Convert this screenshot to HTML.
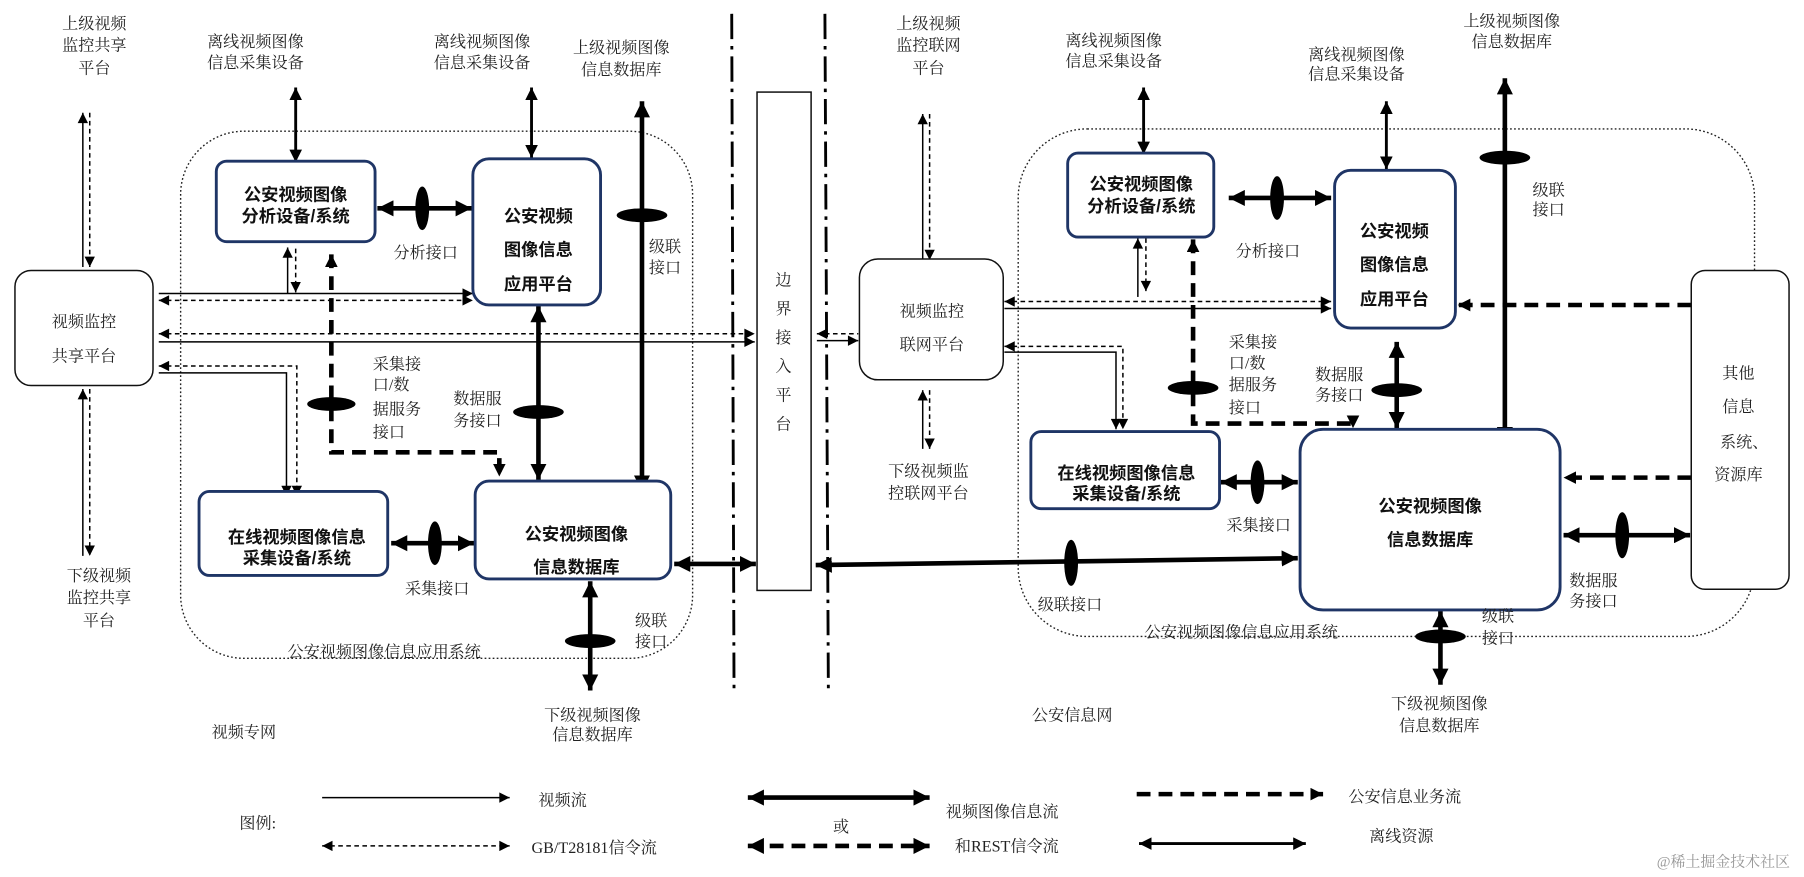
<!DOCTYPE html>
<html><head><meta charset="utf-8"><style>
html,body{margin:0;padding:0;background:#fff;}
svg{display:block;}
text{font-family:"Liberation Serif","Noto Serif CJK SC",serif;font-size:14px;fill:#222;}
.b{font-weight:bold;font-size:15px;fill:#111;font-family:"Liberation Sans","Noto Sans CJK SC",sans-serif;}
.box{fill:#fff;stroke:#1f3566;stroke-width:2.5;}
.plain{fill:#fff;stroke:#111;stroke-width:1.3;}
.t{stroke:#000;stroke-width:1.3;fill:none;}
.d{stroke:#000;stroke-width:1.3;fill:none;stroke-dasharray:4 3;}
.T{stroke:#000;stroke-width:4;fill:none;}
.TD{stroke:#000;stroke-width:4;fill:none;stroke-dasharray:12 7;}
.m{stroke:#000;stroke-width:2.5;fill:none;}
</style></head><body>
<svg width="1804" height="877" viewBox="0 0 1568 762" preserveAspectRatio="none" xmlns="http://www.w3.org/2000/svg">
<defs>
<marker id="a" markerUnits="userSpaceOnUse" viewBox="0 0 10 10" refX="10" refY="5" markerWidth="10" markerHeight="9" orient="auto-start-reverse"><path d="M0,0L10,5L0,10z" fill="#000"/></marker>
<marker id="A" markerUnits="userSpaceOnUse" viewBox="0 0 10 10" refX="10" refY="5" markerWidth="14" markerHeight="14" orient="auto-start-reverse"><path d="M0,0L10,5L0,10z" fill="#000"/></marker>
<marker id="M" markerUnits="userSpaceOnUse" viewBox="0 0 10 10" refX="10" refY="5" markerWidth="11" markerHeight="11" orient="auto-start-reverse"><path d="M0,0L10,5L0,10z" fill="#000"/></marker>
</defs>

<rect x="157" y="114" width="445" height="458" rx="55" fill="none" stroke="#222" stroke-width="1.2" stroke-dasharray="1.5 2"/>
<rect x="885" y="112" width="640" height="441" rx="60" fill="none" stroke="#222" stroke-width="1.2" stroke-dasharray="1.5 2"/>

<line x1="636" y1="12" x2="638" y2="600" stroke="#000" stroke-width="2.5" stroke-dasharray="22 6 3 6"/>
<line x1="717" y1="12" x2="720" y2="600" stroke="#000" stroke-width="2.5" stroke-dasharray="22 6 3 6"/>

<!-- LEFT connectors -->
<line class="t" x1="72" y1="232" x2="72" y2="98" marker-end="url(#a)"/>
<line class="d" x1="78" y1="98" x2="78" y2="232" marker-end="url(#a)"/>
<line class="t" x1="72" y1="483" x2="72" y2="338" marker-end="url(#a)"/>
<line class="d" x1="78" y1="338" x2="78" y2="483" marker-end="url(#a)"/>
<line class="m" x1="257" y1="76" x2="257" y2="141" marker-start="url(#M)" marker-end="url(#M)"/>
<line class="m" x1="462" y1="76" x2="462" y2="137" marker-start="url(#M)" marker-end="url(#M)"/>
<line class="T" x1="558" y1="88" x2="558" y2="427" marker-start="url(#A)" marker-end="url(#A)"/>
<ellipse cx="558" cy="187" rx="22" ry="6"/>
<line class="T" x1="328" y1="181" x2="410" y2="181" marker-start="url(#A)" marker-end="url(#A)"/>
<ellipse cx="367" cy="181" rx="6" ry="19"/>
<line class="t" x1="250" y1="255" x2="250" y2="215" marker-end="url(#a)"/>
<line class="d" x1="257" y1="216" x2="257" y2="254" marker-end="url(#a)"/>
<line class="t" x1="138" y1="255" x2="411" y2="255" marker-end="url(#a)"/>
<line class="d" x1="138" y1="261" x2="411" y2="261" marker-start="url(#a)" marker-end="url(#a)"/>
<line class="d" x1="138" y1="290" x2="656" y2="290" marker-start="url(#a)" marker-end="url(#a)"/>
<line class="t" x1="138" y1="297" x2="656" y2="297" marker-end="url(#a)"/>
<polyline class="d" points="138,318 258,318 258,431" marker-start="url(#a)" marker-end="url(#a)"/>
<polyline class="t" points="138,324 249,324 249,431" marker-end="url(#a)"/>
<polyline class="TD" points="288,221 288,393 434,393 434,414" marker-start="url(#M)" marker-end="url(#M)"/>
<ellipse cx="288" cy="351" rx="21" ry="6"/>
<line class="T" x1="468" y1="266" x2="468" y2="417" marker-start="url(#A)" marker-end="url(#A)"/>
<ellipse cx="468" cy="358" rx="22" ry="6"/>
<line class="T" x1="340" y1="472" x2="412" y2="472" marker-start="url(#A)" marker-end="url(#A)"/>
<ellipse cx="378" cy="472" rx="6" ry="19"/>
<line class="T" x1="513" y1="505" x2="513" y2="600" marker-start="url(#A)" marker-end="url(#A)"/>
<ellipse cx="513" cy="557" rx="22" ry="6"/>
<line class="T" x1="586" y1="490" x2="657" y2="490" marker-start="url(#A)" marker-end="url(#A)"/>

<!-- RIGHT connectors -->
<line class="d" x1="710" y1="290" x2="746" y2="290" marker-start="url(#a)"/>
<line class="t" x1="710" y1="296" x2="746" y2="296" marker-end="url(#a)"/>
<line class="t" x1="802" y1="226" x2="802" y2="99" marker-end="url(#a)"/>
<line class="d" x1="808" y1="99" x2="808" y2="226" marker-end="url(#a)"/>
<line class="t" x1="802" y1="390" x2="802" y2="339" marker-end="url(#a)"/>
<line class="d" x1="808" y1="339" x2="808" y2="390" marker-end="url(#a)"/>
<line class="m" x1="994" y1="76" x2="994" y2="134" marker-start="url(#M)" marker-end="url(#M)"/>
<line class="m" x1="1205" y1="88" x2="1205" y2="147" marker-start="url(#M)" marker-end="url(#M)"/>
<line class="T" x1="1308" y1="68" x2="1308" y2="385" marker-start="url(#A)" marker-end="url(#A)"/>
<ellipse cx="1308" cy="137" rx="22" ry="6"/>
<line class="T" x1="1068" y1="172" x2="1157" y2="172" marker-start="url(#A)" marker-end="url(#A)"/>
<ellipse cx="1110" cy="172" rx="6" ry="19"/>
<line class="t" x1="989" y1="258" x2="989" y2="207" marker-end="url(#a)"/>
<line class="d" x1="996" y1="207" x2="996" y2="253" marker-end="url(#a)"/>
<line class="d" x1="873" y1="262" x2="1157" y2="262" marker-start="url(#a)" marker-end="url(#a)"/>
<line class="t" x1="873" y1="268" x2="1157" y2="268" marker-end="url(#a)"/>
<polyline class="d" points="873,301 976,301 976,373" marker-start="url(#a)" marker-end="url(#a)"/>
<polyline class="t" points="873,306 970,306 970,373" marker-end="url(#a)"/>
<polyline class="TD" points="1037,208 1037,368 1176,368 1176,372" marker-start="url(#M)" marker-end="url(#M)"/>
<ellipse cx="1037" cy="337" rx="22" ry="6"/>
<line class="T" x1="1214" y1="297" x2="1214" y2="372" marker-start="url(#A)" marker-end="url(#A)"/>
<ellipse cx="1214" cy="339" rx="22" ry="6"/>
<line class="T" x1="1061" y1="419" x2="1128" y2="419" marker-start="url(#A)" marker-end="url(#A)"/>
<ellipse cx="1093" cy="419" rx="6" ry="19"/>
<line class="T" x1="709" y1="491" x2="1128" y2="485" marker-start="url(#A)" marker-end="url(#A)"/>
<ellipse cx="931" cy="489" rx="6" ry="20"/>
<line class="TD" x1="1470" y1="265" x2="1267" y2="265" marker-end="url(#M)"/>
<line class="TD" x1="1470" y1="415" x2="1359" y2="415" marker-end="url(#M)"/>
<line class="T" x1="1359" y1="465" x2="1469" y2="465" marker-start="url(#A)" marker-end="url(#A)"/>
<ellipse cx="1410" cy="465" rx="6" ry="20"/>
<line class="T" x1="1252" y1="531" x2="1252" y2="595" marker-start="url(#A)" marker-end="url(#A)"/>
<ellipse cx="1252" cy="553" rx="22" ry="6"/>

<!-- boxes -->
<rect class="plain" x="13" y="235" width="120" height="100" rx="14"/>
<rect class="box" x="188" y="140" width="138" height="70" rx="9"/>
<rect class="box" x="411" y="138" width="111" height="127" rx="14"/>
<rect class="box" x="173" y="427" width="164" height="73" rx="9"/>
<rect class="box" x="413" y="418" width="170" height="85" rx="12"/>
<rect class="plain" x="658" y="80" width="47" height="433"/>
<rect class="plain" x="747" y="225" width="125" height="105" rx="16"/>
<rect class="box" x="928" y="133" width="127" height="73" rx="9"/>
<rect class="box" x="1160" y="148" width="105" height="137" rx="14"/>
<rect class="box" x="896" y="375" width="164" height="67" rx="9"/>
<rect class="box" x="1130" y="373" width="226" height="157" rx="20"/>
<rect class="plain" x="1470" y="235" width="85" height="277" rx="12"/>

<!-- box text -->
<text x="73" y="284" text-anchor="middle">视频监控</text><text x="73" y="314" text-anchor="middle">共享平台</text>
<text class="b" x="257" y="174" text-anchor="middle">公安视频图像</text><text class="b" x="257" y="193" text-anchor="middle">分析设备/系统</text>
<text class="b" x="468" y="193" text-anchor="middle">公安视频</text><text class="b" x="468" y="222" text-anchor="middle">图像信息</text><text class="b" x="468" y="252" text-anchor="middle">应用平台</text>
<text class="b" x="258" y="472" text-anchor="middle">在线视频图像信息</text><text class="b" x="258" y="490" text-anchor="middle">采集设备/系统</text>
<text class="b" x="501" y="469" text-anchor="middle">公安视频图像</text><text class="b" x="501" y="498" text-anchor="middle">信息数据库</text>
<text x="681" y="248" text-anchor="middle">边</text><text x="681" y="273" text-anchor="middle">界</text><text x="681" y="298" text-anchor="middle">接</text><text x="681" y="323" text-anchor="middle">入</text><text x="681" y="348" text-anchor="middle">平</text><text x="681" y="373" text-anchor="middle">台</text>
<text x="810" y="275" text-anchor="middle">视频监控</text><text x="810" y="304" text-anchor="middle">联网平台</text>
<text class="b" x="992" y="165" text-anchor="middle">公安视频图像</text><text class="b" x="992" y="184" text-anchor="middle">分析设备/系统</text>
<text class="b" x="1212" y="206" text-anchor="middle">公安视频</text><text class="b" x="1212" y="235" text-anchor="middle">图像信息</text><text class="b" x="1212" y="265" text-anchor="middle">应用平台</text>
<text class="b" x="979" y="416" text-anchor="middle">在线视频图像信息</text><text class="b" x="979" y="434" text-anchor="middle">采集设备/系统</text>
<text class="b" x="1243" y="445" text-anchor="middle">公安视频图像</text><text class="b" x="1243" y="474" text-anchor="middle">信息数据库</text>
<text x="1511" y="329" text-anchor="middle">其他</text><text x="1511" y="358" text-anchor="middle">信息</text><text x="1516" y="389" text-anchor="middle">系统、</text><text x="1511" y="417" text-anchor="middle">资源库</text>

<!-- labels left -->
<text x="82" y="25" text-anchor="middle">上级视频</text><text x="82" y="44" text-anchor="middle">监控共享</text><text x="82" y="64" text-anchor="middle">平台</text>
<text x="86" y="505" text-anchor="middle">下级视频</text><text x="86" y="524" text-anchor="middle">监控共享</text><text x="86" y="544" text-anchor="middle">平台</text>
<text x="222" y="41" text-anchor="middle">离线视频图像</text><text x="222" y="59" text-anchor="middle">信息采集设备</text>
<text x="419" y="41" text-anchor="middle">离线视频图像</text><text x="419" y="59" text-anchor="middle">信息采集设备</text>
<text x="540" y="46" text-anchor="middle">上级视频图像</text><text x="540" y="65" text-anchor="middle">信息数据库</text>
<text x="370" y="224" text-anchor="middle">分析接口</text>
<text x="578" y="219" text-anchor="middle">级联</text><text x="578" y="237" text-anchor="middle">接口</text>
<text x="324" y="321">采集接</text><text x="324" y="339">口/数</text><text x="324" y="360">据服务</text><text x="324" y="380">接口</text>
<text x="415" y="351" text-anchor="middle">数据服</text><text x="415" y="370" text-anchor="middle">务接口</text>
<text x="380" y="516" text-anchor="middle">采集接口</text>
<text x="566" y="544" text-anchor="middle">级联</text><text x="566" y="562" text-anchor="middle">接口</text>
<text x="334" y="571" text-anchor="middle">公安视频图像信息应用系统</text>
<text x="212" y="641" text-anchor="middle">视频专网</text>
<text x="515" y="626" text-anchor="middle">下级视频图像</text><text x="515" y="643" text-anchor="middle">信息数据库</text>

<!-- labels right -->
<text x="807" y="25" text-anchor="middle">上级视频</text><text x="807" y="44" text-anchor="middle">监控联网</text><text x="807" y="64" text-anchor="middle">平台</text>
<text x="807" y="414" text-anchor="middle">下级视频监</text><text x="807" y="433" text-anchor="middle">控联网平台</text>
<text x="968" y="40" text-anchor="middle">离线视频图像</text><text x="968" y="58" text-anchor="middle">信息采集设备</text>
<text x="1179" y="52" text-anchor="middle">离线视频图像</text><text x="1179" y="69" text-anchor="middle">信息采集设备</text>
<text x="1314" y="23" text-anchor="middle">上级视频图像</text><text x="1314" y="41" text-anchor="middle">信息数据库</text>
<text x="1102" y="223" text-anchor="middle">分析接口</text>
<text x="1346" y="170" text-anchor="middle">级联</text><text x="1346" y="187" text-anchor="middle">接口</text>
<text x="1068" y="302">采集接</text><text x="1068" y="320">口/数</text><text x="1068" y="339">据服务</text><text x="1068" y="359">接口</text>
<text x="1164" y="330" text-anchor="middle">数据服</text><text x="1164" y="348" text-anchor="middle">务接口</text>
<text x="1094" y="461" text-anchor="middle">采集接口</text>
<text x="930" y="530" text-anchor="middle">级联接口</text>
<text x="1385" y="509" text-anchor="middle">数据服</text><text x="1385" y="527" text-anchor="middle">务接口</text>
<text x="1302" y="540" text-anchor="middle">级联</text><text x="1302" y="559" text-anchor="middle">接口</text>
<text x="1079" y="554" text-anchor="middle">公安视频图像信息应用系统</text>
<text x="932" y="626" text-anchor="middle">公安信息网</text>
<text x="1251" y="616" text-anchor="middle">下级视频图像</text><text x="1251" y="635" text-anchor="middle">信息数据库</text>

<!-- legend -->
<text x="224" y="720" text-anchor="middle">图例:</text>
<line class="t" x1="280" y1="693" x2="443" y2="693" marker-end="url(#a)"/>
<text x="468" y="700">视频流</text>
<line class="d" x1="280" y1="735" x2="443" y2="735" marker-start="url(#a)" marker-end="url(#a)"/>
<text x="462" y="741">GB/T28181信令流</text>
<line class="T" x1="650" y1="693" x2="808" y2="693" marker-start="url(#A)" marker-end="url(#A)"/>
<text x="731" y="723" text-anchor="middle">或</text>
<line class="TD" x1="650" y1="735" x2="808" y2="735" marker-start="url(#A)" marker-end="url(#A)"/>
<text x="822" y="710">视频图像信息流</text>
<text x="830" y="740">和REST信令流</text>
<line class="TD" x1="988" y1="690" x2="1150" y2="690" marker-end="url(#M)"/>
<text x="1172" y="697">公安信息业务流</text>
<line class="m" x1="990" y1="733" x2="1135" y2="733" marker-start="url(#M)" marker-end="url(#M)"/>
<text x="1190" y="731">离线资源</text>
<text x="1440" y="753" style="fill:#999;font-size:13px">@稀土掘金技术社区</text>
</svg>
</body></html>
